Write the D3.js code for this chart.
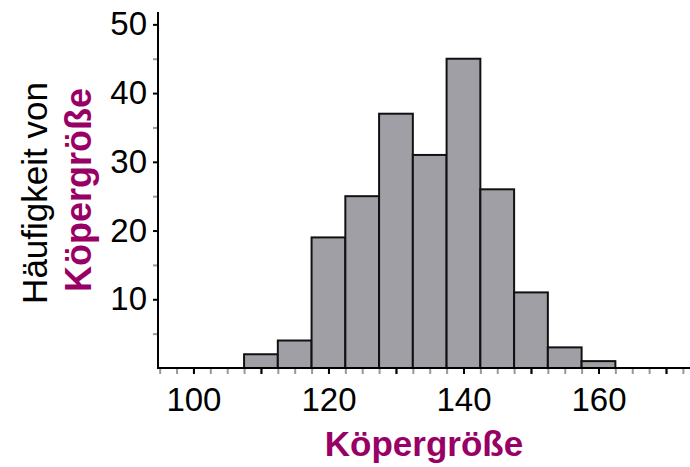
<!DOCTYPE html>
<html>
<head>
<meta charset="utf-8">
<script src="https://cdn.jsdelivr.net/npm/d3@7"></script>
<style>
  body { margin: 0; background: #fff; }
  svg { display: block; }
  text { font-family: "Liberation Sans", Arial, sans-serif; }
</style>
</head>
<body>
<div id="chart"></div>
<script>
(function(){
var width = 690, height = 467;

// bins of 5 cm, given by their centres
var binCenters = [110, 115, 120, 125, 130, 135, 140, 145, 150, 155, 160];
var counts = [2, 4, 19, 25, 37, 31, 45, 26, 11, 3, 1];
var binWidth = 5;

var xMinorTicks = d3.range(95, 174, 2.5);
var xMajorTicks = [100, 110, 120, 130, 140, 150, 160, 170];
var xLabels = [100, 120, 140, 160];
var yMinorTicks = [5, 15, 25, 35, 45];
var yMajorTicks = [10, 20, 30, 40, 50];

var purple = "#990066";

var svg = d3.select("#chart")
  .append("svg")
  .attr("width", width)
  .attr("height", height);

var x = d3.scaleLinear().domain([94.75, 174]).range([158, 693]);
var y = d3.scaleLinear().domain([0, 51.8]).range([368, 12]);

// bars
svg.append("g")
  .selectAll("rect")
  .data(binCenters)
  .enter()
  .append("rect")
  .attr("x", function(d) { return x(d - binWidth / 2); })
  .attr("y", function(d, i) { return y(counts[i]); })
  .attr("width", function(d) { return x(d + binWidth / 2) - x(d - binWidth / 2); })
  .attr("height", function(d, i) { return y(0) - y(counts[i]); })
  .style("fill", "#a09fa5")
  .style("stroke", "#111")
  .style("stroke-width", 2);

// x axis: gray minor ticks, black major ticks, labels every 20
var xMinor = svg.append("g")
  .attr("transform", "translate(0," + y(0) + ")")
  .call(d3.axisBottom(x).tickValues(xMinorTicks).tickSize(6).tickFormat(""));
xMinor.selectAll(".tick line").attr("stroke", "#999").attr("stroke-width", 2);
xMinor.select(".domain").remove();

var xMajor = svg.append("g")
  .attr("transform", "translate(0," + y(0) + ")")
  .call(d3.axisBottom(x).tickValues(xMajorTicks).tickSize(6).tickPadding(14)
    .tickFormat(function(d) { return xLabels.indexOf(d) >= 0 ? d : ""; }));
xMajor.selectAll(".tick line").attr("stroke", "#000").attr("stroke-width", 2);
xMajor.select(".domain").remove();
xMajor.selectAll("text")
  .style("font-size", "33px")
  .style("fill", "#000");

// y axis
var yMinor = svg.append("g")
  .attr("transform", "translate(" + x.range()[0] + ",0)")
  .call(d3.axisLeft(y).tickValues(yMinorTicks).tickSize(5).tickFormat(""));
yMinor.selectAll(".tick line").attr("stroke", "#999").attr("stroke-width", 2);
yMinor.select(".domain").remove();

var yMajor = svg.append("g")
  .attr("transform", "translate(" + x.range()[0] + ",0)")
  .call(d3.axisLeft(y).tickValues(yMajorTicks).tickSize(5).tickPadding(6));
yMajor.selectAll(".tick line").attr("stroke", "#000").attr("stroke-width", 2);
yMajor.select(".domain").remove();
yMajor.selectAll("text")
  .style("font-size", "33px")
  .style("fill", "#000");

// axis lines
svg.append("line")
  .attr("x1", x.range()[0]).attr("x2", width)
  .attr("y1", y(0)).attr("y2", y(0))
  .style("stroke", "#000").style("stroke-width", 2);
svg.append("line")
  .attr("x1", x.range()[0]).attr("x2", x.range()[0])
  .attr("y1", y.range()[1]).attr("y2", y(0) + 1)
  .style("stroke", "#000").style("stroke-width", 2);

// axis titles
svg.append("text")
  .attr("x", 424)
  .attr("y", 456)
  .attr("text-anchor", "middle")
  .style("font-size", "35px")
  .style("font-weight", "bold")
  .style("fill", purple)
  .text("Köpergröße");

svg.append("text")
  .attr("transform", "translate(47,193) rotate(-90)")
  .attr("text-anchor", "middle")
  .style("font-size", "35px")
  .style("fill", "#000")
  .text("Häufigkeit von");

svg.append("text")
  .attr("transform", "translate(91,190) rotate(-90)")
  .attr("text-anchor", "middle")
  .style("font-size", "36px")
  .style("font-weight", "bold")
  .style("fill", purple)
  .text("Köpergröße");
})()
</script>
</body>
</html>
